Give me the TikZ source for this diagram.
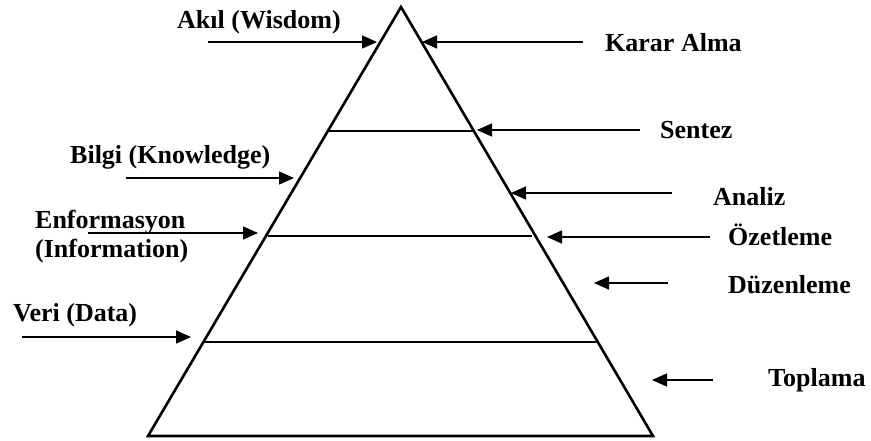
\documentclass[tikz,border=0pt]{standalone}
\usepackage{fontspec}
\setmainfont{Liberation Serif}
\usetikzlibrary{arrows.meta}
\tikzset{
  lbl/.style={anchor=west, inner sep=0pt, font=\fontsize{26}{29}\selectfont\bfseries, align=left},
  arr/.style={line width=1.4pt, -{Triangle[length=15pt,width=13pt]}},
  side/.style={line width=2.6pt, line join=miter},
  level/.style={line width=1.2pt}
}
\begin{document}
\begin{tikzpicture}[x=1pt,y=-1pt]
\useasboundingbox (0,0) rectangle (871,441);
% pyramid
\coordinate (apex) at (401,7);
\coordinate (bl) at (148,436);
\coordinate (br) at (653,436);
\draw[side] (bl) -- (apex) -- (br) -- cycle;
\coordinate (l1a) at (328,131); \coordinate (l1b) at (474,131);
\coordinate (l2a) at (268,236); \coordinate (l2b) at (532,236);
\coordinate (l3a) at (204,342); \coordinate (l3b) at (598,342);
\draw[level] (l1a) -- (l1b);
\draw[level] (l2a) -- (l2b);
\draw[level] (l3a) -- (l3b);
% labels
\node[lbl] (akil) at (177,22) {Akıl (Wisdom)};
\node[lbl] (karar) at (605,43) {Karar Alma};
\node[lbl] (sentez) at (660,130) {Sentez};
\node[lbl] (bilgi) at (70,157) {Bilgi (Knowledge)};
\node[lbl] (enf) at (35,237) {Enformasyon\\(Information)};
\node[lbl] (analiz) at (713,197) {Analiz};
\node[lbl] (ozet) at (728,235) {Özetleme};
\node[lbl] (duzen) at (728,285) {Düzenleme};
\node[lbl] (veri) at (13,315) {Veri (Data)};
\node[lbl] (topla) at (768,380) {Toplama};
% arrows
\coordinate (a1t) at (208,42); \coordinate (a1h) at (377,42);
\coordinate (a2t) at (583,42); \coordinate (a2h) at (422,42);
\coordinate (a3t) at (640,130); \coordinate (a3h) at (477,130);
\coordinate (a4t) at (126,178); \coordinate (a4h) at (294,178);
\coordinate (a5t) at (88,233); \coordinate (a5h) at (258,233);
\coordinate (a6t) at (672,193); \coordinate (a6h) at (511,193);
\coordinate (a7t) at (710,237); \coordinate (a7h) at (547,237);
\coordinate (a8t) at (668,283); \coordinate (a8h) at (594,283);
\coordinate (a9t) at (22,337); \coordinate (a9h) at (191,337);
\coordinate (a10t) at (713,380); \coordinate (a10h) at (652,380);
\draw[arr] (a1t) -- (a1h);
\draw[arr] (a2t) -- (a2h);
\draw[arr] (a3t) -- (a3h);
\draw[arr] (a4t) -- (a4h);
\draw[arr] (a5t) -- (a5h);
\draw[arr] (a6t) -- (a6h);
\draw[arr] (a7t) -- (a7h);
\draw[arr] (a8t) -- (a8h);
\draw[arr] (a9t) -- (a9h);
\draw[arr] (a10t) -- (a10h);
\end{tikzpicture}
\end{document}
